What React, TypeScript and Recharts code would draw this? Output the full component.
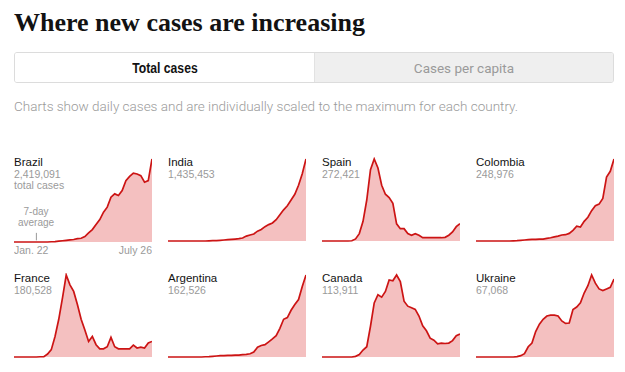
import React from 'react';
import { AreaChart, Area, XAxis, YAxis, ReferenceLine } from 'recharts';

// daily cases, 7-day average, scaled to each country's max (=100), sampled every ~5 days Jan. 22 – July 26
const brazil = [0, 0, 0, 0, 0, 0, 0, 0, 0, 0, 0.3, 0.5, 1, 1.5, 2, 2.5, 3, 4, 4.5, 6.5, 11, 15, 21, 27, 36, 42, 54, 58, 56, 62, 74, 79, 83, 82, 80, 72, 74, 100];
const india = [0, 0, 0, 0, 0, 0, 0, 0, 0, 0, 0, 0.2, 0.4, 0.5, 0.8, 1.2, 1.6, 2, 2.4, 2.8, 3.7, 6, 7.3, 8.5, 12, 14, 17.5, 20, 22, 26, 32, 38, 43, 50, 57, 68, 82, 100];
const spain = [0, 0, 0, 0, 0, 0, 0, 0, 0.3, 2.5, 9, 24, 50, 87, 100, 89, 68, 57, 53, 46, 21, 15, 15, 9, 7, 9, 7, 4, 4, 4, 4, 4, 4, 4.5, 7, 11, 17.5, 21];
const colombia = [0, 0, 0, 0, 0, 0, 0, 0, 0, 0, 0.2, 0.4, 0.8, 1.2, 1.6, 2, 2, 2.4, 2.4, 3.3, 4, 5, 6, 7.3, 7.7, 9.3, 13, 18, 17, 24, 29, 37, 43, 45, 52, 78, 85, 100];
const france = [0, 0, 0, 0, 0, 0, 0, 0.3, 0.5, 3.6, 9, 25, 46, 72, 100, 88, 80, 64, 46, 33, 19, 25, 15, 10, 10, 12.5, 24, 12.5, 10, 10, 10, 10, 14.5, 11, 12, 11, 17, 19];
const argentina = [0, 0, 0, 0, 0, 0, 0, 0, 0, 0, 0.3, 0.4, 0.8, 1.2, 1.6, 1.6, 2, 2, 2.4, 2.4, 2.8, 3.2, 4, 6, 12, 14, 15, 18.5, 22, 26, 35, 46, 48, 57, 64, 70, 86, 100];
const canada = [0, 0, 0, 0, 0, 0, 0, 0, 0, 0.8, 3, 8.5, 12.5, 37.5, 66, 76, 73, 80, 94, 93, 100, 92, 68, 62, 60, 58, 50, 38, 32, 23, 20.5, 16, 17, 16.5, 17, 20, 26, 28];
const ukraine = [0, 0, 0, 0, 0, 0, 0, 0, 0, 0, 0, 0.4, 1.6, 4, 12.5, 17, 31, 40, 46, 50, 51, 51, 50, 44, 41, 41.5, 58, 61, 66, 78, 87, 100, 90, 83, 81, 83, 85, 95];

const countries = ['Brazil', 'India', 'Spain', 'Colombia', 'France', 'Argentina', 'Canada', 'Ukraine'];
const totals = ['2,419,091', '1,435,453', '272,421', '248,976', '180,528', '162,526', '113,911', '67,068'];
const series = [brazil, india, spain, colombia, france, argentina, canada, ukraine];
const axisLabels = ['Jan. 22', 'July 26'];

const RED = '#cc1414';
const PINK = '#f4c0c0';
const GRAY = '#9a9a9a';
const SANS = '"Liberation Sans", Arial, sans-serif';

const colLeft = [14, 168, 322, 476];
const rowTop = [157, 273];

const DateTick = (props: any) => {
    const { x, y, index } = props;
    return (
        <text x={x} y={y + 4} textAnchor={index === 0 ? 'start' : 'end'} fill={GRAY} fontSize={10.5} fontFamily={SANS}>
            {axisLabels[index]}
        </text>
    );
};

const Panel = ({ idx }: { idx: number }) => {
    const values = series[idx];
    const data = values.map((v, i) => ({ i, v }));
    const first = idx === 0;
    const left = colLeft[idx % 4];
    const top = rowTop[Math.floor(idx / 4)];
    const last = values.length - 1;
    return (
        <div style={{ position: 'absolute', left, top, width: 138 }}>
            <AreaChart
                width={138}
                height={first ? 107 : 85}
                data={data}
                margin={{ top: 2, right: 0, bottom: first ? 0 : 1, left: 0 }}
            >
                <XAxis
                    dataKey="i"
                    hide={!first}
                    ticks={[0, last]}
                    interval={0}
                    axisLine={false}
                    tickLine={false}
                    height={22}
                    tick={<DateTick />}
                />
                <YAxis hide domain={[0, 100]} />
                <Area
                    type="linear"
                    dataKey="v"
                    stroke={RED}
                    strokeWidth={1.7}
                    fill={PINK}
                    fillOpacity={1}
                    isAnimationActive={false}
                />
                {first && (
                    <ReferenceLine
                        segment={[{ x: 6, y: 2 }, { x: 6, y: 11 }]}
                        stroke="#999"
                        strokeWidth={1}
                    />
                )}
            </AreaChart>
            <div style={{ position: 'absolute', left: 0, top: -1, fontFamily: SANS, pointerEvents: 'none' }}>
                <div style={{ fontSize: 11.5, lineHeight: '13px', color: '#121212' }}>{countries[idx]}</div>
                <div style={{ fontSize: 10.5, lineHeight: '11px', color: GRAY }}>{totals[idx]}</div>
                {first && <div style={{ fontSize: 10.5, lineHeight: '10px', color: GRAY }}>total cases</div>}
            </div>
            {first && (
                <div style={{ position: 'absolute', left: 2, width: 40, top: 49, textAlign: 'center', fontFamily: SANS, fontSize: 10, lineHeight: '11px', color: GRAY }}>
                    <div>7-day</div>
                    <div>average</div>
                </div>
            )}
        </div>
    );
};

export default function App() {
    return (
        <div style={{ position: 'absolute', left: 0, top: 0, width: 625, height: 372, background: '#fff', overflow: 'hidden' }}>
            <div style={{ position: 'absolute', left: 14, top: 8, fontFamily: '"Liberation Serif", "DejaVu Serif", serif', fontWeight: 700, fontSize: 26, lineHeight: '30px', color: '#121212', whiteSpace: 'nowrap' }}>
                Where new cases are increasing
            </div>
            <div style={{ position: 'absolute', left: 14, top: 52, width: 598, height: 29, border: '1px solid #dcdcdc', borderRadius: 3, display: 'flex', overflow: 'hidden' }}>
                <div style={{ width: 299, background: '#fff', borderRight: '1px solid #e2e2e2', display: 'flex', alignItems: 'center', justifyContent: 'center', fontFamily: SANS, fontWeight: 700, fontSize: 14.5, color: '#121212' }}>
                    <span style={{ display: 'inline-block', transform: 'scaleX(0.84)' }}>Total cases</span>
                </div>
                <div style={{ flex: 1, background: '#efefef', display: 'flex', alignItems: 'center', justifyContent: 'center', fontFamily: 'Roboto, sans-serif', fontSize: 13.5, color: '#9a9a9a' }}>
                    Cases per capita
                </div>
            </div>
            <div style={{ position: 'absolute', left: 14, top: 98, fontFamily: 'Roboto, sans-serif', fontWeight: 300, fontSize: 13.5, lineHeight: '17px', color: '#9a9a9a', whiteSpace: 'nowrap' }}>
                Charts show daily cases and are individually scaled to the maximum for each country.
            </div>
            {series.map((_, i) => (
                <Panel key={countries[i]} idx={i} />
            ))}
        </div>
    );
}
